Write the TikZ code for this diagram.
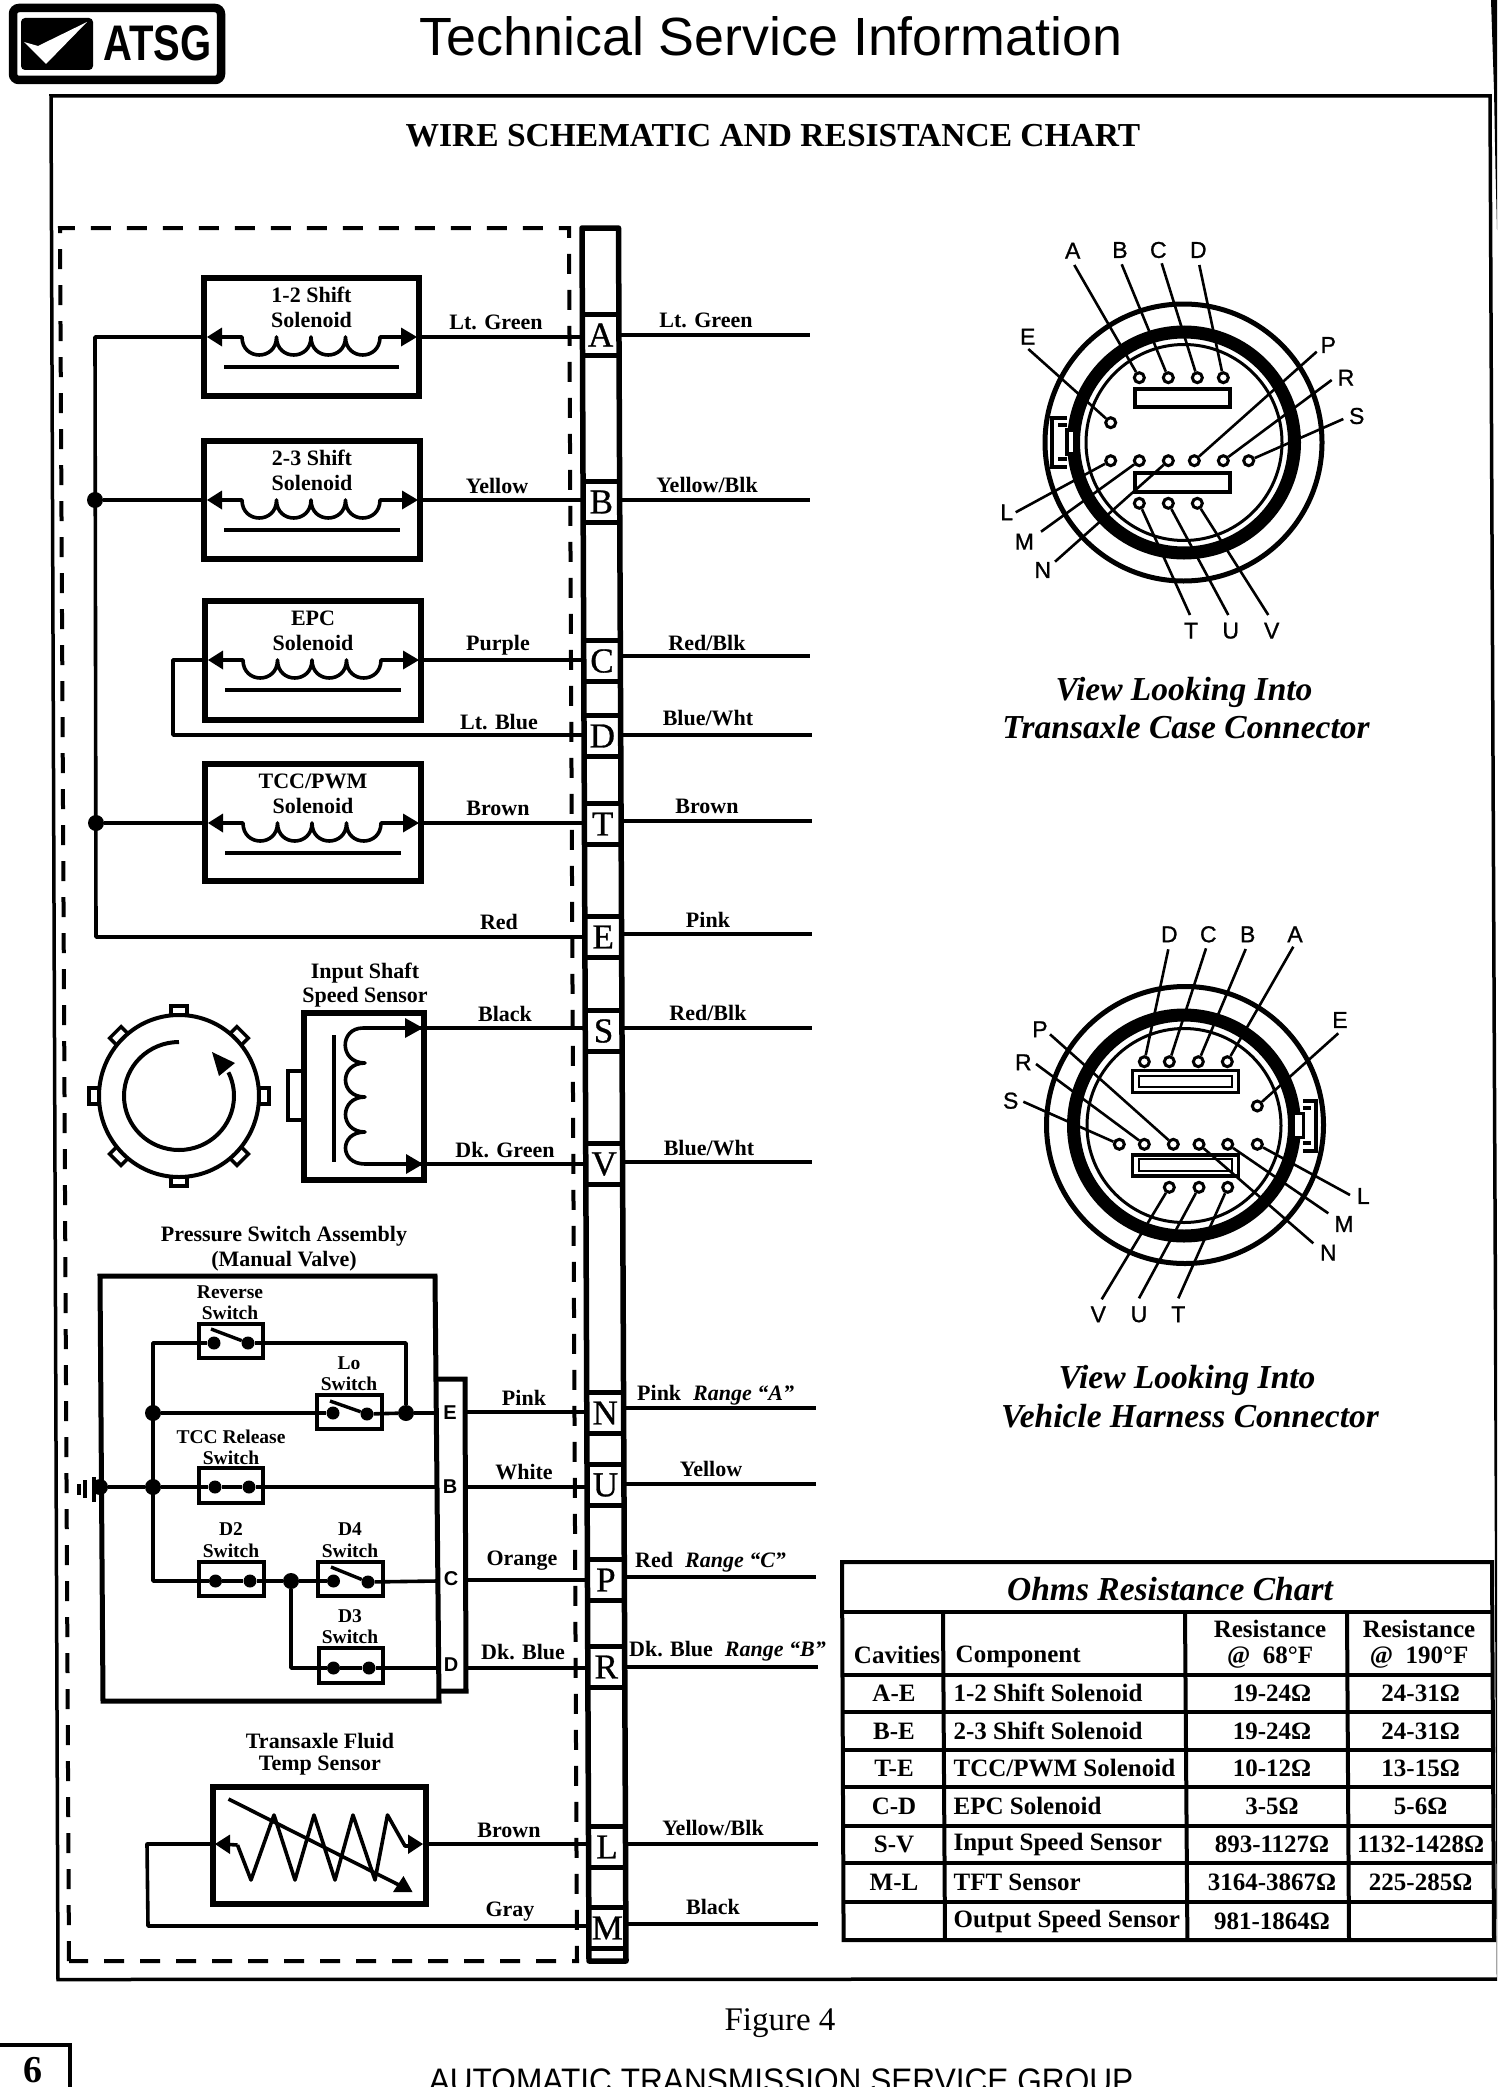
\documentclass[tikz,border=0pt]{standalone}
\usepackage{fontspec}
\setmainfont{Liberation Serif}
\newfontfamily\arialf{Liberation Sans}
\newfontfamily\ctf[FakeBold=1]{Liberation Sans}
\newfontfamily\cellf[FakeBold=0.8]{Liberation Serif}
\usetikzlibrary{calc}
\newcommand\fsz[1]{\fontsize{#1}{#1}\selectfont}
\tikzset{
  wire/.style={line width=3.6pt,line join=round},
  heavy/.style={line width=6pt,line join=miter},
  swb/.style={line width=4pt},
  blade/.style={line width=3.4pt},
  barline/.style={line width=5.5pt,line join=round},
  cellbar/.style={line width=5pt},
  dashbox/.style={line width=4pt,dash pattern=on 20pt off 16pt},
  framel/.style={line width=3.5pt},
  tabl/.style={line width=4pt},
  lead/.style={line width=2.6pt},
  jdot/.style={circle,fill=black,inner sep=0pt,minimum size=16pt},
  cdot/.style={circle,fill=black,inner sep=0pt,minimum size=13pt},
  pinn/.style={circle,draw=black,fill=white,line width=3pt,inner sep=0pt,minimum size=10pt},
  cell/.style={inner sep=0pt,minimum width=37pt,minimum height=41pt,font=\cellf\fsz{35}},
  wl/.style={inner sep=0pt,font=\bfseries\fsz{22}},
  sl/.style={inner sep=0pt,font=\bfseries\fsz{19.5}},
  ctext/.style={inner sep=0pt,font=\ctf\fsz{23}},
  captxt/.style={inner sep=0pt,font=\bfseries\itshape\fsz{33.5}},
  tb/.style={inner sep=0pt,font=\bfseries\fsz{25}},
  blk/.style={inner sep=0pt,font=\arialf\bfseries\fsz{20}}
}
% wiring cell of the harness bar
\newcommand\barcell[3]{%
  \pgfmathsetmacro\cx{600.2+(#3-226)*0.0042}
  \node[cell] (c#1) at (\cx,#3) {#2};
  \draw[cellbar] (c#1.north west) -- (c#1.north east);
  \draw[cellbar] (c#1.south west) -- (c#1.south east);
}
% solenoid box
\newcommand\solenoid[7]{%
  \draw[heavy] (#2,#3) rectangle (#4,#5);
  \pgfmathsetmacro\wy{#3+59}
  \pgfmathsetmacro\ly{#3+89}
  \coordinate (#1l) at (#2,\wy);
  \coordinate (#1r) at (#4,\wy);
  \fill (#2+3,\wy) -- (#2+18,\wy-9.5) -- (#2+18,\wy+9.5) -- cycle;
  \fill (#4-2,\wy) -- (#4-18,\wy-9.5) -- (#4-18,\wy+9.5) -- cycle;
  \draw[wire] (#2+16,\wy) -- (#2+38,\wy)
    .. controls +(0,24) and +(0,24) .. ++(34.5,0)
    .. controls +(0,24) and +(0,24) .. ++(34.5,0)
    .. controls +(0,24) and +(0,24) .. ++(34.5,0)
    .. controls +(0,24) and +(0,24) .. ++(34.5,0)
    -- (#4-16,\wy);
  \draw[line width=3.6pt] (#2+20,\ly) -- (#4-20,\ly);
  \pgfmathsetmacro\mx{(#2+#4)/2}
  \pgfmathsetmacro\ta{#3+17}
  \pgfmathsetmacro\tbb{#3+42}
  \node[wl] (#1t1) at (\mx,\ta) {#6};
  \node[wl] (#1t2) at (\mx,\tbb) {#7};
}
% connector pin with its lead and its letter
\newcommand\pinlead[8]{%
  \node[pinn] (#1) at (#2,#3) {};
  \coordinate (#1e) at (#4,#5);
  \draw[lead] (#1) -- (#1e);
  \node[ctext] (#1t) at (#6,#7) {#8};
}
% chart row
\newcommand\chartrow[6]{%
  \node[tb] (#1a) at (894,#2) {#3};
  \node[tb,anchor=west] (#1b) at (953.4,#2) {#4};
  \node[tb] (#1c) at (1272,#2) {#5};
  \node[tb] (#1d) at (1420.6,#2) {#6};
}
\begin{document}
\begin{tikzpicture}[x=1pt,y=-1pt]
\useasboundingbox (0,0) rectangle (1497,2087);
\clip (0,0) rectangle (1497,2087);
\fill[white] (0,0) rectangle (1497,2087);

% scanned page edge
\fill (1497,0) -- (1491,0) -- (1494,90) -- (1495.5,170) -- (1497,230) -- cycle;

% logo
\draw[line width=8.5pt,rounded corners=6pt] (13,8) rectangle (221,80);
\fill[rounded corners=4pt] (21,18) rectangle (93,70);
\fill[white] (24,42) -- (38,46) -- (87,22) -- (46,64) -- cycle;
\node[inner sep=0pt,anchor=base west,xscale=0.8] (logotext) at (103,61)
  {\arialf\bfseries\fsz{50}ATSG};

% heading
\node[inner sep=0pt,anchor=base] (title) at (771,56) {\arialf\fsz{53.8}Technical Service Information};
\draw[framel] (51,96) -- (1490,96) -- (1498.5,1979) -- (58,1979.5) -- cycle;
\node[inner sep=0pt] (subtitle) at (773,136) {\bfseries\fsz{33.5}WIRE SCHEMATIC AND RESISTANCE CHART};
\node[inner sep=0pt] (figure) at (780,2023) {\fsz{33}Figure 4};

% page number and footer
\draw[line width=4pt] (0,2045) -- (70,2045) -- (70,2087);
\node[inner sep=0pt] (pageno) at (33,2070) {\bfseries\fsz{38}6};
\node[inner sep=0pt,anchor=base,xscale=0.93] (footer) at (781,2092)
  {\arialf\fsz{34}AUTOMATIC TRANSMISSION SERVICE GROUP};

% dashed enclosure
\draw[dashbox] (69,1961) -- (60,228) -- (569,228) -- (577,1961) -- cycle;

% harness bar
\draw[barline] (589,1961) -- (582,228) -- (618.5,228) -- (626,1961) -- cycle;
\barcell{A}{A}{335}
\barcell{B}{B}{502}
\barcell{C}{C}{661}
\barcell{D}{D}{736}
\barcell{T}{T}{824}
\barcell{E}{E}{937}
\barcell{S}{S}{1031}
\barcell{V}{V}{1164}
\barcell{N}{N}{1413}
\barcell{U}{U}{1485}
\barcell{P}{P}{1580}
\barcell{R}{R}{1667}
\barcell{L}{L}{1847}
\barcell{M}{M}{1928}

% solenoids
\solenoid{sa}{204}{278}{419}{396}{1-2 Shift}{Solenoid}
\solenoid{sb}{204}{441}{420}{559}{2-3 Shift}{Solenoid}
\solenoid{sc}{205}{601}{421}{720}{EPC}{Solenoid}
\solenoid{st}{205}{764}{421}{881}{TCC/PWM}{Solenoid}

\node[jdot] (jb) at (95,500) {};
\node[jdot] (jt) at (96,823) {};
\coordinate (bustop) at (95,337);
\coordinate (busbot) at (96,937);
\draw[wire] (sal) -- (bustop) -- (busbot) -- (cE.west |- busbot);
\draw[wire] (jb) -- (sbl);
\draw[wire] (jt) -- (stl);
\coordinate (dl) at (173,660);
\coordinate (dd) at (173,735);
\draw[wire] (scl) -- (dl) -- (dd) -- (cD.west |- dd);
\draw[wire] (sar) -- (cA.west |- sar);
\draw[wire] (sbr) -- (cB.west |- sbr);
\draw[wire] (scr) -- (cC.west |- scr);
\draw[wire] (str) -- (cT.west |- str);

% input shaft speed sensor wheel
\foreach \a in {0,45,...,315}{
  \draw[line width=3.5pt,rotate around={\a:(179,1096)}] (255,1088) -- (269,1088) -- (269,1104) -- (255,1104);
}
\draw[line width=4pt,fill=white] (179,1096) ellipse [x radius=80,y radius=81];
\draw[line width=4pt] (179,1042) arc [start angle=-90,end angle=-386,x radius=55,y radius=54];
\fill (212,1052) -- (235,1063) -- (219,1076) -- cycle;

% input shaft speed sensor
\draw[line width=3.5pt] (303,1071) -- (288,1071) -- (288,1120) -- (303,1120);
\draw[heavy] (304,1013) rectangle (424,1180);
\draw[line width=4pt] (334,1035) -- (334,1162);
\coordinate (ssa) at (424,1028);
\coordinate (ssb) at (424,1164);
\draw[wire] (ssa) -- (363,1028)
  .. controls (339,1028) and (339,1063) .. (365,1063)
  .. controls (339,1063) and (339,1097) .. (365,1097)
  .. controls (339,1097) and (339,1132) .. (365,1132)
  .. controls (339,1132) and (339,1164) .. (365,1164) -- (ssb);
\fill (423,1028) -- (405,1018) -- (405,1038) -- cycle;
\fill (423,1164) -- (406,1154) -- (406,1174) -- cycle;
\draw[wire] (ssa) -- (cS.west |- ssa);
\draw[wire] (ssb) -- (cV.west |- ssb);
\node[wl] (ist1) at (365,973) {Input Shaft};
\node[wl] (ist2) at (365,997) {Speed Sensor};

% pressure switch assembly
\draw[line width=5pt,line join=miter] (100,1276) -- (435,1276) -- (439,1701) -- (103,1701) -- cycle;
\draw[line width=5pt,line join=miter] (437,1379) -- (465,1379) -- (466,1691) -- (439,1691);
\node[wl] (psa1) at (284,1236) {Pressure Switch Assembly};
\node[wl] (psa2) at (284,1261) {(Manual Valve)};
\node[blk] (bE) at (450,1413) {E};
\node[blk] (bB) at (450,1487) {B};
\node[blk] (bC) at (451,1579) {C};
\node[blk] (bD) at (451,1665) {D};
% switches
\draw[swb] (199,1324) rectangle (263,1358);
\node[cdot] (rvA) at (214,1343) {};
\node[cdot] (rvB) at (248,1343) {};
\draw[blade] (211,1329) -- (rvB);
\node[sl] (rvt1) at (230,1292) {Reverse};
\node[sl] (rvt2) at (230,1313) {Switch};
\draw[swb] (317,1395) rectangle (382,1429);
\node[cdot] (loA) at (333,1413) {};
\node[cdot] (loB) at (367,1414) {};
\draw[blade] (330,1401) -- (loB);
\node[sl] (lot1) at (349,1363) {Lo};
\node[sl] (lot2) at (349,1384) {Switch};
\draw[swb] (199,1468) rectangle (263,1503);
\node[cdot] (tcA) at (215,1487) {};
\node[cdot] (tcB) at (249,1487) {};
\node[sl] (tct1) at (231,1437) {TCC Release};
\node[sl] (tct2) at (231,1458) {Switch};
\draw[swb] (199,1562) rectangle (264,1596);
\node[cdot] (dbA) at (215.5,1581) {};
\node[cdot] (dbB) at (250,1581) {};
\node[sl] (dbt1) at (231,1529) {D2};
\node[sl] (dbt2) at (231,1551) {Switch};
\draw[swb] (318,1562) rectangle (383,1596);
\node[cdot] (ddA) at (333.5,1581) {};
\node[cdot] (ddB) at (368,1582) {};
\draw[blade] (331,1567) -- (ddB);
\node[sl] (ddt1) at (350,1529) {D4};
\node[sl] (ddt2) at (350,1551) {Switch};
\draw[swb] (319,1648) rectangle (383,1683);
\node[cdot] (dcA) at (333.5,1668) {};
\node[cdot] (dcB) at (369,1668) {};
\node[sl] (dct1) at (350,1616) {D3};
\node[sl] (dct2) at (350,1637) {Switch};
% junctions and internal wires
\node[jdot] (jg) at (100,1487) {};
\node[jdot] (j1) at (153,1413) {};
\node[jdot] (j2) at (153,1487) {};
\node[jdot] (j3) at (406,1413) {};
\node[jdot] (j4) at (291,1581) {};
\coordinate (vtop) at (153,1343);
\coordinate (vbot) at (153,1581);
\coordinate (rvc) at (406,1343);
\coordinate (pE) at (437,1413);
\coordinate (pB) at (437,1487);
\coordinate (pC) at (437,1581);
\coordinate (pD) at (437,1668);
\coordinate (d3c) at (291,1668);
\draw[wire] (rvA) -- (vtop) -- (vbot) -- (dbA) -- (dbB) -- (j4) -- (ddA);
\draw[wire] (rvB) -- (rvc) -- (j3);
\draw[wire] (j1) -- (loA);
\draw[wire] (loB) -- (j3) -- (pE);
\draw[wire] (jg) -- (j2) -- (tcA) -- (tcB) -- (pB);
\draw[wire] (ddB) -- (pC);
\draw[wire] (j4) -- (d3c) -- (dcA) -- (dcB) -- (pD);
% ground
\draw[line width=3.4pt] (94,1477) -- (94,1502);
\draw[line width=3.4pt] (85,1480) -- (85,1498);
\draw[line width=3.4pt] (79,1484) -- (79,1495);
% switch block to bar
\coordinate (oE) at (466,1412);
\coordinate (oB) at (466,1487);
\coordinate (oC) at (467,1580);
\coordinate (oD) at (467,1668);
\draw[wire] (oE) -- (cN.west |- oE);
\draw[wire] (oB) -- (cU.west |- oB);
\draw[wire] (oC) -- (cP.west |- oC);
\draw[wire] (oD) -- (cR.west |- oD);

% transaxle fluid temp sensor
\draw[heavy] (212.5,1787) rectangle (426,1904);
\node[wl] (tf1) at (320,1741) {Transaxle Fluid};
\node[wl] (tf2) at (320,1766) {Temp Sensor};
\coordinate (tfl) at (212.5,1844);
\coordinate (tfr) at (426,1844);
\coordinate (tfc) at (147,1844);
\coordinate (tfd) at (148,1926);
\draw[wire] (237.5,1845) -- (251,1880) -- (274,1815) -- (295,1880) -- (314,1815) -- (335,1880) -- (353,1815) -- (375,1880) -- (387.5,1815) -- (405,1846) -- (410,1846);
\draw[wire] (222,1844) -- (237.5,1845);
\fill (215,1844) -- (230,1834.5) -- (230,1854) -- cycle;
\fill (423,1844) -- (408,1834.5) -- (408,1854) -- cycle;
\draw[wire] (228.5,1799) -- (403,1887);
\fill (412.5,1892) -- (393,1892) -- (403.5,1876) -- cycle;
\draw[wire] (tfl) -- (tfc) -- (tfd) -- (cM.west |- tfd);
\draw[wire] (tfr) -- (cL.west |- tfr);

% left wire labels
\node[wl] (la) at (496,322) {Lt. Green};
\node[wl] (lb) at (497,486) {Yellow};
\node[wl] (lc) at (498,645) {Purple};
\node[wl] (ld) at (499,722) {Lt. Blue};
\node[wl] (lt) at (498,808) {Brown};
\node[wl] (le) at (499,922) {Red};
\node[wl] (ls) at (505,1014) {Black};
\node[wl] (lv) at (505,1150) {Dk. Green};
\node[wl] (ln) at (524,1398) {Pink};
\node[wl] (lu) at (524,1472) {White};
\node[wl] (lp) at (522,1561) {Orange};
\node[wl] (lr) at (523,1652) {Dk. Blue};
\node[wl] (ll) at (509,1830) {Brown};
\node[wl] (lm) at (510,1912) {Gray};

% right wires
\coordinate (rA) at (810,335);
\coordinate (rB) at (810,500);
\coordinate (rC) at (810,656);
\coordinate (rD) at (812,735);
\coordinate (rT) at (812,821);
\coordinate (rE) at (812,934);
\coordinate (rS) at (812,1028);
\coordinate (rV) at (812,1162);
\coordinate (rN) at (816,1408);
\coordinate (rU) at (816,1484);
\coordinate (rP) at (816,1577);
\coordinate (rR) at (818,1667);
\coordinate (rL) at (818,1844);
\coordinate (rM) at (818,1924);
\foreach \n in {A,B,C,D,T,E,S,V,N,U,P,R,L,M}{
  \draw[wire] (c\n.east |- r\n) -- (r\n);
}
\node[wl] (ra) at (706,320) {Lt. Green};
\node[wl] (rb) at (707,485) {Yellow/Blk};
\node[wl] (rc) at (707,643) {Red/Blk};
\node[wl] (rd) at (708,718) {Blue/Wht};
\node[wl] (rt) at (707,806) {Brown};
\node[wl] (re) at (708,920) {Pink};
\node[wl] (rs) at (708,1013) {Red/Blk};
\node[wl] (rv) at (709,1148) {Blue/Wht};
\node[wl,anchor=west] (rn) at (637,1395) {Pink\hspace{12pt}\textit{Range ``A''}};
\node[wl] (ru) at (711,1469) {Yellow};
\node[wl,anchor=west] (rp) at (635,1562) {Red\hspace{12pt}\textit{Range ``C''}};
\node[wl,anchor=west] (rr) at (629,1651) {Dk. Blue\hspace{12pt}\textit{Range ``B''}};
\node[wl] (rl) at (713,1828) {Yellow/Blk};
\node[wl] (rm) at (713,1907) {Black};

% case connector
\draw[line width=3.5pt] (1067,418) -- (1052,418) -- (1052,467) -- (1067,467);
\draw[line width=5pt] (1183.5,442.5) circle [radius=138.5];
\draw[line width=13pt] (1184,442.5) circle [radius=110.5];
\draw[line width=3pt] (1184,442.5) circle [radius=98];
\draw[line width=3.5pt,fill=white] (1067,430) rectangle (1075,454);
\draw[line width=4pt] (1058,425) -- (1067,425);
\draw[line width=4pt] (1058,459) -- (1067,459);
\draw[line width=3.5pt] (1135,389) rectangle (1230,407);
\draw[line width=3.5pt] (1135,473) rectangle (1230,492);
\pinlead{tA}{1139.3}{377.7}{1074.3}{265}{1072.7}{250.7}{A}
\pinlead{tB}{1168.3}{377.7}{1121.7}{264.3}{1120}{250}{B}
\pinlead{tC}{1197.3}{377.7}{1161.7}{263.3}{1158.3}{250}{C}
\pinlead{tD}{1223.3}{377.7}{1199.3}{265}{1198.3}{250}{D}
\pinlead{tE}{1110.7}{422.7}{1028.3}{349}{1027.7}{336.7}{E}
\pinlead{tL}{1110.7}{460.7}{1015.7}{512.3}{1006.7}{512.3}{L}
\pinlead{tM}{1139.3}{460.7}{1041}{531.7}{1024.3}{541.7}{M}
\pinlead{tN}{1168.3}{460.7}{1055}{561.7}{1042.7}{570}{N}
\pinlead{tP}{1194.3}{460.7}{1316.7}{351.7}{1328.3}{345}{P}
\pinlead{tR}{1223.3}{460.7}{1331.7}{380}{1346}{377.7}{R}
\pinlead{tS}{1248.7}{460.7}{1343.3}{419}{1356.7}{416}{S}
\pinlead{tT}{1139.3}{503.3}{1190}{615}{1191}{630.7}{T}
\pinlead{tU}{1168.3}{503.3}{1228.3}{615}{1230.7}{630.7}{U}
\pinlead{tV}{1197.3}{503.3}{1268.3}{615}{1271.7}{630.7}{V}
\node[captxt] (tcap1) at (1184,692) {View Looking Into};
\node[captxt] (tcap2) at (1186,727) {Transaxle Case Connector};

% harness connector
\draw[line width=3.5pt] (1303,1101) -- (1316,1101) -- (1316,1151) -- (1303,1151);
\draw[line width=5pt] (1185,1125) circle [radius=138.5];
\draw[line width=13pt] (1184,1125.5) circle [radius=110.5];
\draw[line width=3pt] (1184,1125.5) circle [radius=97];
\draw[line width=3.5pt,fill=white] (1293,1113.5) rectangle (1303.5,1137.5);
\draw[line width=4pt] (1303,1108) -- (1311,1108);
\draw[line width=4pt] (1303,1143) -- (1311,1143);
\draw[line width=3.5pt] (1132.3,1070.7) rectangle (1238.3,1092.7);
\draw[line width=2pt] (1139,1075.7) rectangle (1231.7,1087.3);
\draw[line width=3.5pt] (1132.3,1155) rectangle (1238.3,1176);
\draw[line width=2pt] (1139,1159) rectangle (1231.7,1170.7);
\pinlead{hD}{1144.3}{1061.7}{1168.3}{949.3}{1169.3}{934.3}{D}
\pinlead{hC}{1169.3}{1061.7}{1206}{948.3}{1208.3}{934.3}{C}
\pinlead{hB}{1198.3}{1061.7}{1245.7}{949}{1247.7}{934.3}{B}
\pinlead{hA}{1227.3}{1061.7}{1293.3}{946.7}{1295}{934.3}{A}
\pinlead{hE}{1257.3}{1106}{1338.3}{1033.3}{1340}{1020}{E}
\pinlead{hP}{1173.3}{1144.3}{1050}{1034.3}{1040}{1029.3}{P}
\pinlead{hR}{1144.3}{1144.3}{1036}{1064}{1023.3}{1062.3}{R}
\pinlead{hS}{1119.3}{1144.3}{1023.3}{1101.7}{1010.7}{1100.7}{S}
\pinlead{hN}{1199}{1144.3}{1313.3}{1243.3}{1328.3}{1252.7}{N}
\pinlead{hM}{1227.7}{1144.3}{1328.3}{1213.3}{1344}{1224}{M}
\pinlead{hL}{1257.3}{1144.3}{1350}{1195}{1363.3}{1196}{L}
\pinlead{hV}{1169.3}{1187.3}{1101.7}{1299.3}{1098.3}{1314.3}{V}
\pinlead{hU}{1199}{1187.3}{1139}{1298.3}{1139}{1314.3}{U}
\pinlead{hT}{1227.7}{1187.3}{1178.3}{1298.3}{1178.3}{1314.3}{T}
\node[captxt] (hcap1) at (1187,1380) {View Looking Into};
\node[captxt] (hcap2) at (1190,1416) {Vehicle Harness Connector};

% resistance chart
\draw[tabl] (842,1562) -- (1492,1562) -- (1494,1940) -- (843.6,1940) -- cycle;
\draw[tabl] (842,1612) -- (1492,1612);
\draw[tabl] (842,1675) -- (1493,1675);
\draw[tabl] (842,1712) -- (1493,1712);
\draw[tabl] (842,1750) -- (1493,1750);
\draw[tabl] (842,1787) -- (1493,1787);
\draw[tabl] (843,1826) -- (1494,1826);
\draw[tabl] (843,1863) -- (1494,1863);
\draw[tabl] (843,1902) -- (1494,1902);
\draw[tabl] (943,1612) -- (945,1940);
\draw[tabl] (1185,1612) -- (1187.4,1940);
\draw[tabl] (1347,1612) -- (1349,1940);
\node[inner sep=0pt] (chtitle) at (1170,1589) {\bfseries\itshape\fsz{33.5}Ohms Resistance Chart};
\node[tb] (hcav) at (897,1655) {Cavities};
\node[tb,anchor=west] (hcomp) at (955.5,1657) {Component};
\node[tb] (hr1) at (1270,1629) {Resistance};
\node[tb] (hr2) at (1270,1658) {@\ \ 68°F};
\node[tb] (hr3) at (1419,1629) {Resistance};
\node[tb] (hr4) at (1419,1658) {@\ \ 190°F};
\chartrow{ra}{1693}{A-E}{1-2 Shift Solenoid}{19-24Ω}{24-31Ω}
\chartrow{rb}{1731}{B-E}{2-3 Shift Solenoid}{19-24Ω}{24-31Ω}
\chartrow{rc}{1768}{T-E}{TCC/PWM Solenoid}{10-12Ω}{13-15Ω}
\chartrow{rd}{1806}{C-D}{EPC Solenoid}{3-5Ω}{5-6Ω}
\chartrow{re}{1844}{S-V}{Input Speed Sensor}{893-1127Ω}{1132-1428Ω}
\chartrow{rf}{1882}{M-L}{TFT Sensor}{3164-3867Ω}{225-285Ω}
\chartrow{rg}{1921}{}{Output Speed Sensor}{981-1864Ω}{}
\end{tikzpicture}
\end{document}
